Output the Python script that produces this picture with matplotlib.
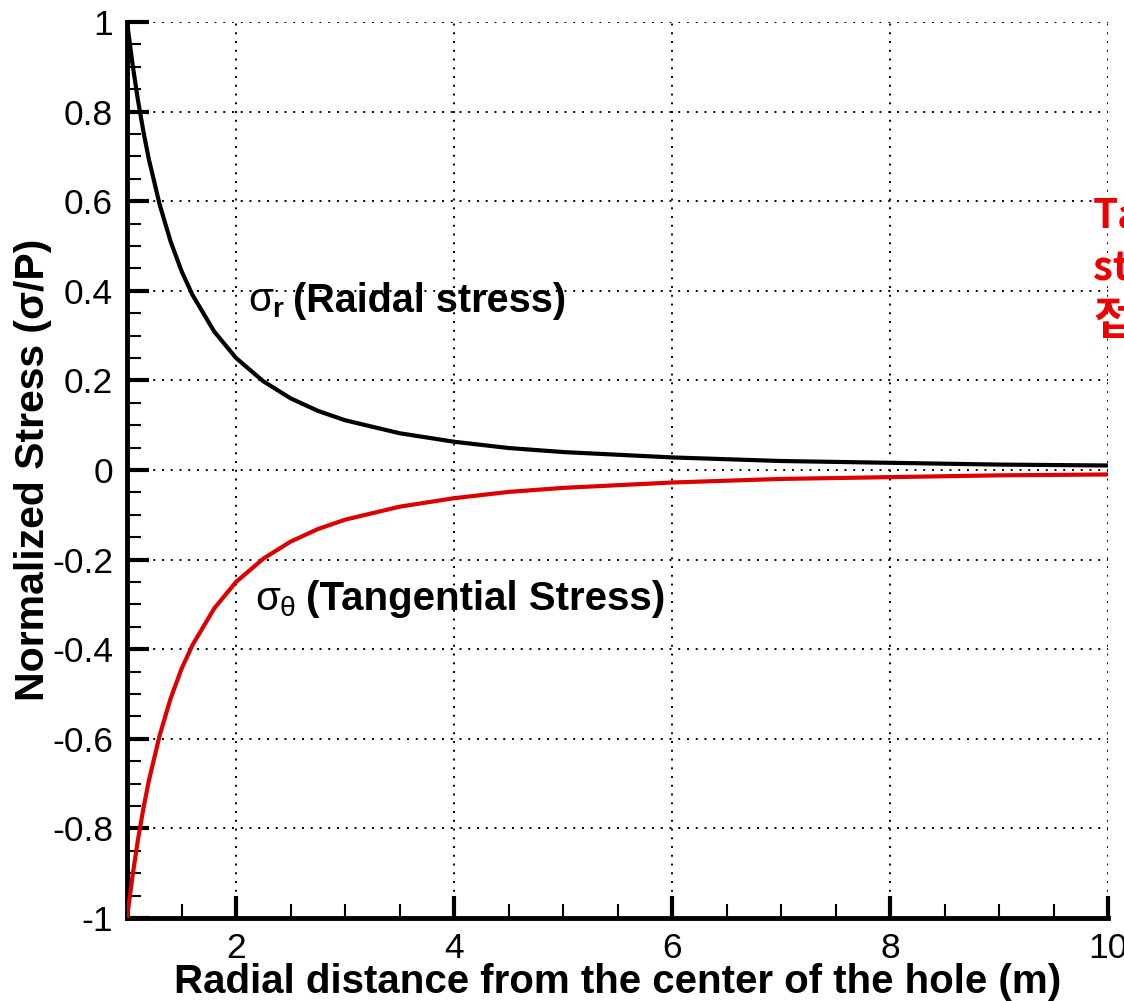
import matplotlib
matplotlib.use("Agg")
import matplotlib.pyplot as plt
from matplotlib.ticker import MultipleLocator, FuncFormatter

plt.rcParams['font.family'] = ['Liberation Sans', 'DejaVu Sans']
plt.rcParams['mathtext.fontset'] = 'custom'
plt.rcParams['mathtext.rm'] = 'Liberation Sans'
plt.rcParams['mathtext.it'] = 'Liberation Sans'
plt.rcParams['mathtext.bf'] = 'Liberation Sans:bold'

# Radial distance r (m) and normalized stresses sigma / P
r = [1.0, 1.05, 1.1, 1.15, 1.2, 1.3, 1.4, 1.5, 1.6, 1.8, 2.0, 2.25, 2.5,
     2.75, 3.0, 3.5, 4.0, 4.5, 5.0, 6.0, 7.0, 8.0, 9.0, 10.0]
sigma_r = [1.0, 0.907, 0.826, 0.756, 0.694, 0.592, 0.510, 0.444, 0.391,
           0.309, 0.250, 0.198, 0.160, 0.132, 0.111, 0.082, 0.063, 0.049,
           0.040, 0.028, 0.020, 0.016, 0.012, 0.010]
sigma_theta = [-1.0, -0.907, -0.826, -0.756, -0.694, -0.592, -0.510, -0.444,
               -0.391, -0.309, -0.250, -0.198, -0.160, -0.132, -0.111, -0.082,
               -0.063, -0.049, -0.040, -0.028, -0.020, -0.016, -0.012, -0.010]

x_ticks = [2, 4, 6, 8, 10]
y_ticks = [-1, -0.8, -0.6, -0.4, -0.2, 0, 0.2, 0.4, 0.6, 0.8, 1]

fig = plt.figure(figsize=(11.24, 10.01), dpi=100)
ax = fig.add_axes([0.113, 0.083, 0.873, 0.895])

ax.plot(r, sigma_r, color='black', lw=3.0, solid_joinstyle='miter', zorder=3)
ax.plot(r, sigma_theta, color='#dd0000', lw=3.0, solid_joinstyle='miter', zorder=3)

ax.set_xlim(1, 10)
ax.set_ylim(-1, 1)
ax.set_xticks(x_ticks)
ax.set_yticks(y_ticks)
ax.xaxis.set_minor_locator(MultipleLocator(0.5))
ax.yaxis.set_minor_locator(MultipleLocator(0.05))
ax.yaxis.set_major_formatter(FuncFormatter(lambda v, p: f"{v:g}"))
ax.xaxis.set_major_formatter(FuncFormatter(lambda v, p: f"{v:g}"))

ax.tick_params(which='major', direction='in', length=16, width=3, labelsize=25.5,
               pad=10)
ax.tick_params(which='minor', direction='in', length=10, width=1.5)

for side in ('top', 'right'):
    ax.spines[side].set_visible(False)
for side in ('left', 'bottom'):
    ax.spines[side].set_linewidth(3.5)

ax.grid(True, which='major', color='black', linestyle=(0, (1, 3.5)), lw=1.4)
ax.set_axisbelow(False)

ax.set_xlabel('Radial distance from the center of the hole (m)',
              fontsize=29, fontweight='bold', labelpad=-1)
ax.set_ylabel('Normalized Stress (σ/P)', fontsize=29.5, fontweight='bold',
              labelpad=0)

ax.text(2.11, 0.353, r'$\sigma_{\mathbf{r}}$', fontsize=29, va='baseline', ha='left')
ax.text(2.52, 0.353, '(Raidal stress)', fontsize=28.5, fontweight='bold',
        va='baseline', ha='left')
ax.text(2.17, -0.3125, r'$\sigma_{\theta}$', fontsize=29, va='baseline', ha='left')
ax.text(2.64, -0.3125, '(Tangential Stress)', fontsize=29, fontweight='bold',
        va='baseline', ha='left')

for txt, yb, fs in (('Tangential', 228, 29), ('stress', 280, 29),
                    ('접선응력', 334, 32)):
    fig.text(1093 / 1124, 1 - yb / 1001, txt, color='#ee0000', fontsize=fs,
             fontweight='bold', va='baseline', ha='left',
             family=['Noto Sans CJK KR', 'DejaVu Sans'])

fig.savefig('out.png', dpi=100)
